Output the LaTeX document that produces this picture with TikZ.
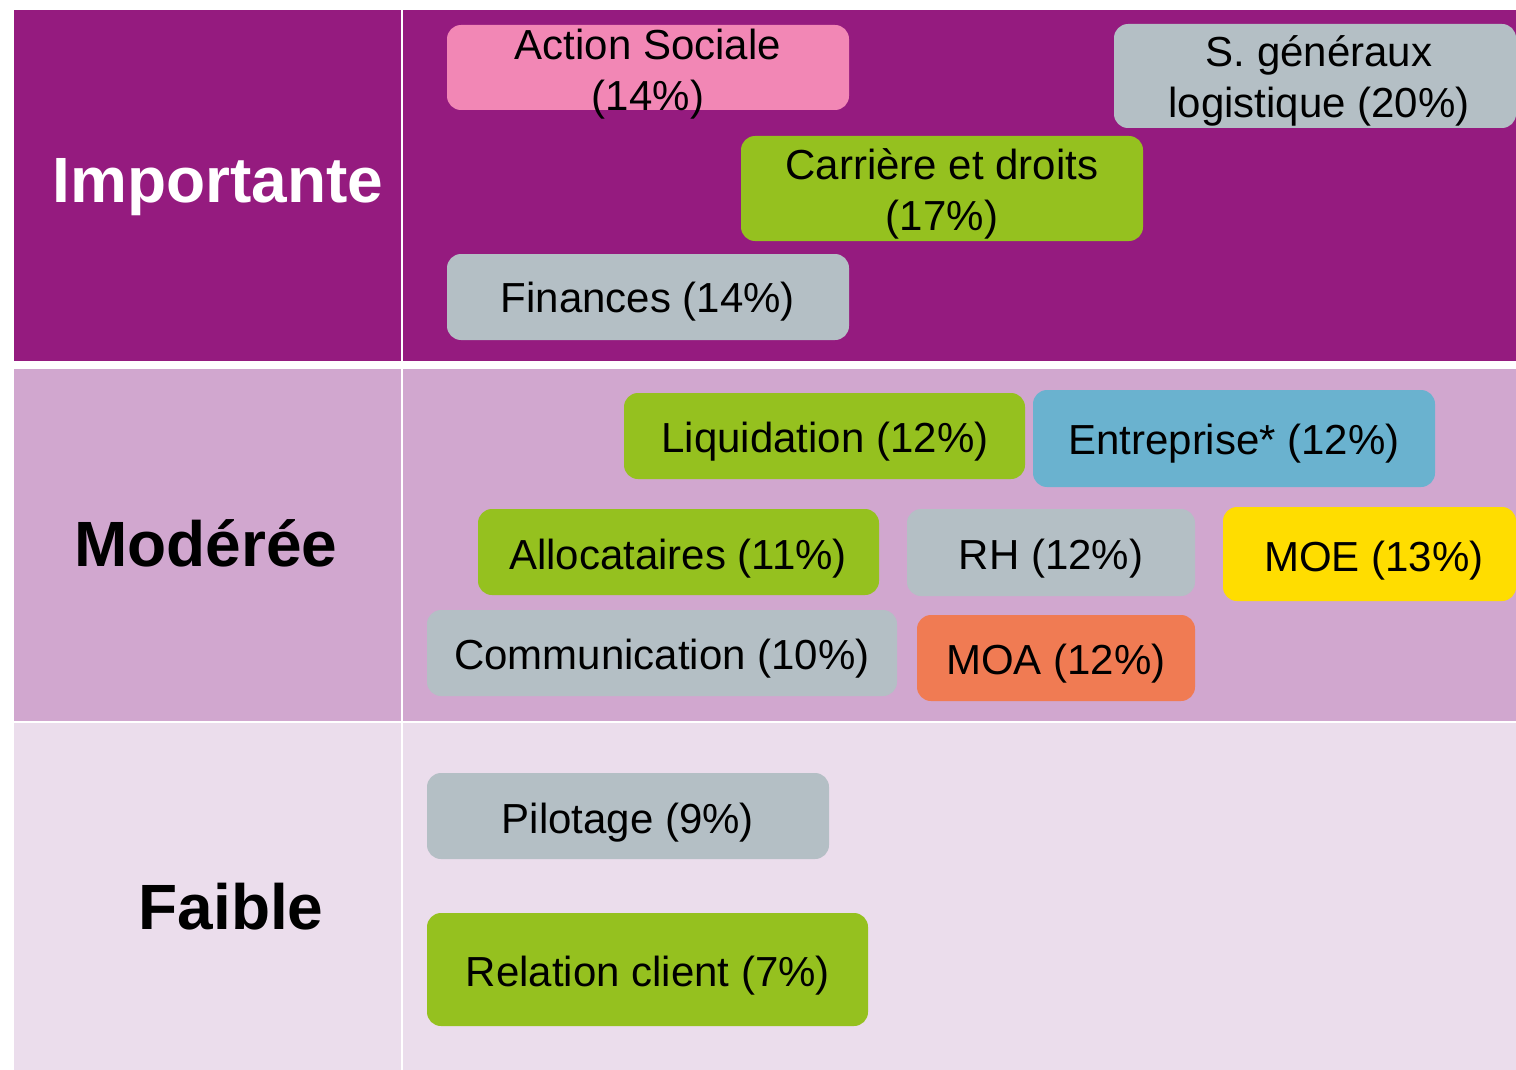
\documentclass[tikz,border=0pt]{standalone}
\usepackage{fontspec}
\setmainfont{Liberation Sans}
\definecolor{dpurple}{HTML}{951B7F}
\definecolor{mpurple}{HTML}{D1A7CF}
\definecolor{lpurple}{HTML}{EBDDEC}
\definecolor{bpink}{HTML}{F287B5}
\definecolor{bgray}{HTML}{B4BFC5}
\definecolor{bgreen}{HTML}{95C11F}
\definecolor{bblue}{HTML}{6AB2CF}
\definecolor{byellow}{HTML}{FFDD00}
\definecolor{borange}{HTML}{F07B53}
\tikzset{
  tag/.style={rounded corners=14pt, inner sep=0pt, outer sep=0pt, fill=#1},
  tagtxt/.style={inner sep=0pt, align=center, text=black, font=\fontsize{42}{51}\selectfont, yshift=-4pt},
  rowlbl/.style={inner sep=0pt, font=\bfseries\fontsize{64}{70}\selectfont}
}
\begin{document}
\begin{tikzpicture}[x=1pt,y=-1pt]
\useasboundingbox (0,0) rectangle (1516,1070);
\clip (0,0) rectangle (1516,1070);
\fill[white] (0,0) rectangle (1516,1070);
% row backgrounds
\fill[dpurple] (14,10) rectangle (401,361);
\fill[dpurple] (403,10) rectangle (1516,361);
\fill[mpurple] (14,369) rectangle (401,721);
\fill[mpurple] (403,369) rectangle (1516,721);
\fill[lpurple] (14,723) rectangle (401,1070);
\fill[lpurple] (403,723) rectangle (1516,1070);
% row labels
\node[rowlbl, text=white] (imp) at (218,187) {Importante};
\node[rowlbl, text=black] (mod) at (206,543) {Modérée};
\node[rowlbl, text=black] (fai) at (231,907) {Faible};
% boxes
\fill[tag=bpink] (447,25) rectangle (849,110);
\node[tagtxt] (as) at (648,70) {Action Sociale\\(14\%)};
\fill[tag=bgray] (1114,24) rectangle (1516,128);
\node[tagtxt] (sg) at (1319,77) {S. généraux\\logistique (20\%)};
\fill[tag=bgreen] (741,136) rectangle (1143,241);
\node[tagtxt] (cd) at (942,190) {Carrière et droits\\(17\%)};
\fill[tag=bgray] (447,254) rectangle (849,340);
\node[tagtxt] (fi) at (648,298) {Finances (14\%)};
\fill[tag=bgreen] (624,393) rectangle (1025,479);
\node[tagtxt] (li) at (825,438) {Liquidation (12\%)};
\fill[tag=bblue] (1033,390) rectangle (1435,487);
\node[tagtxt] (en) at (1234,440) {Entreprise* (12\%)};
\fill[tag=bgreen] (478,509) rectangle (879,595);
\node[tagtxt] (al) at (678,555) {Allocataires (11\%)};
\fill[tag=bgray] (907,509) rectangle (1195,596);
\node[tagtxt] (rh) at (1051,555) {RH (12\%)};
\fill[tag=byellow] (1223,507) rectangle (1516,601);
\node[tagtxt] (moe) at (1374,557) {MOE (13\%)};
\fill[tag=bgray] (427,610) rectangle (897,696);
\node[tagtxt] (co) at (662,655) {Communication (10\%)};
\fill[tag=borange] (917,615) rectangle (1195,701);
\node[tagtxt] (moa) at (1056,660) {MOA (12\%)};
\fill[tag=bgray] (427,773) rectangle (829,859);
\node[tagtxt] (pi) at (628,819) {Pilotage (9\%)};
\fill[tag=bgreen] (427,913) rectangle (868,1026);
\node[tagtxt] (rc) at (648,972) {Relation client (7\%)};
\end{tikzpicture}
\end{document}
